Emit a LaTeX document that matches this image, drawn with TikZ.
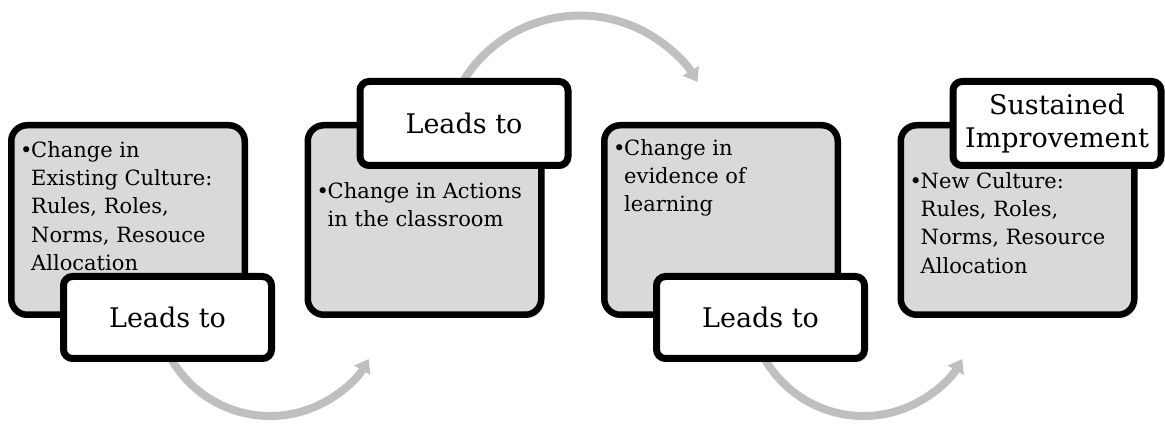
\documentclass[tikz,border=0pt]{standalone}
\usepackage{fontspec}
\setmainfont{DejaVu Serif}
\usetikzlibrary{arrows.meta,shadows}
\definecolor{boxgray}{RGB}{217,217,217}
\definecolor{arcgray}{RGB}{191,191,191}
\newcommand{\bulmark}{\makebox[11pt][l]{•}}
\newcommand{\bulind}{\hspace*{11pt}}
\begin{document}
\begin{tikzpicture}[x=1pt,y=1pt,
  graybox/.style={draw=black, line width=6.5pt, fill=boxgray, rounded corners=16pt,
    minimum width=233.5pt, minimum height=189.5pt, inner sep=0pt,
    drop shadow={shadow xshift=3pt, shadow yshift=-3.5pt, opacity=0.2}},
  whitebox/.style={draw=black, line width=7pt, fill=white, rounded corners=9pt,
    minimum width=208pt, minimum height=82pt, inner sep=0pt, align=center,
    font=\fontsize{27}{33}\selectfont,
    drop shadow={shadow xshift=3pt, shadow yshift=-3.5pt, opacity=0.2}},
  bodytext/.style={anchor=north west, inner sep=0pt, align=left,
    font=\fontsize{21}{28.3}\selectfont},
  flow/.style={draw=arcgray, line width=8pt, -{Triangle[width=18pt,length=13pt]}}
]
\useasboundingbox (0,0) rectangle (1165,428);
% arcs
\coordinate (a1s) at (166.7,77.8);
\coordinate (a2s) at (461.4,343.9);
\coordinate (a3s) at (760.2,77.8);
\draw[flow] (a1s) arc[start angle=205, end angle=330, radius=114];
\draw[flow] (a2s) arc[start angle=150, end angle=31, radius=137];
\draw[flow] (a3s) arc[start angle=205, end angle=330, radius=114];
% gray boxes
\node[graybox] (g1) at (128,208) {};
\node[graybox] (g2) at (424.5,208) {};
\node[graybox] (g3) at (721,208) {};
\node[graybox] (g4) at (1017.5,208) {};
% texts
\node[bodytext] (t1) at (20,287) {\bulmark Change in\\\bulind Existing Culture:\\\bulind Rules, Roles,\\\bulind Norms, Resouce\\\bulind Allocation};
\node[bodytext] (t2) at (316.5,246) {\bulmark Change in Actions\\\bulind in the classroom};
\node[bodytext] (t3) at (613,289) {\bulmark Change in\\\bulind evidence of\\\bulind learning};
\node[bodytext] (t4) at (909.5,256) {\bulmark New Culture:\\\bulind Rules, Roles,\\\bulind Norms, Resource\\\bulind Allocation};
% white boxes
\node[whitebox] (w1) at (167.5,110.5) {Leads to};
\node[whitebox, minimum height=84pt] (w2) at (464,304.5) {Leads to};
\node[whitebox] (w3) at (760.5,110.5) {Leads to};
\node[whitebox, minimum height=84pt] (w4) at (1057,304.5) {Sustained\\Improvement};
\end{tikzpicture}
\end{document}
